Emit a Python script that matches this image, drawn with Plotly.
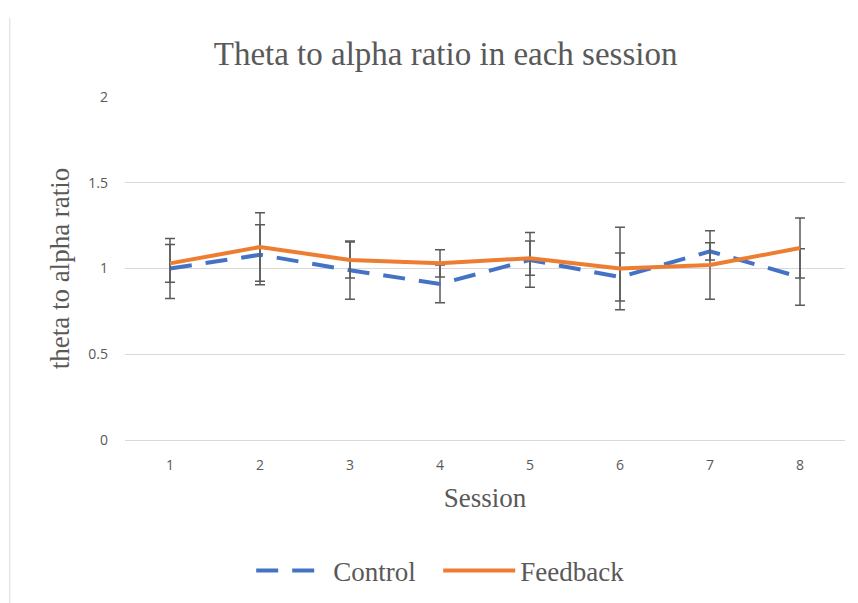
import plotly.graph_objects as go

sessions = [1, 2, 3, 4, 5, 6, 7, 8]
control = [1.00, 1.08, 0.99, 0.91, 1.05, 0.95, 1.10, 0.95]
control_err = [0.175, 0.175, 0.17, 0.11, 0.16, 0.14, 0.05, 0.165]
feedback = [1.03, 1.125, 1.05, 1.03, 1.06, 1.00, 1.02, 1.12]
feedback_err = [0.11, 0.20, 0.105, 0.08, 0.10, 0.24, 0.20, 0.175]

serif = "Liberation Serif"
grey_txt = "#595959"

fig = go.Figure()
fig.add_trace(go.Scatter(
    x=sessions, y=control, name="Control", mode="lines",
    line=dict(color="#4472C4", width=4, dash="22px,14px"),
    error_y=dict(type="data", array=control_err, visible=True,
                 color="#595959", thickness=1.5, width=5),
))
fig.add_trace(go.Scatter(
    x=sessions, y=feedback, name="Feedback", mode="lines",
    line=dict(color="#ED7D31", width=4),
    error_y=dict(type="data", array=feedback_err, visible=True,
                 color="#595959", thickness=1.5, width=5),
))

# page body adds an 8px offset, so margins are trimmed to compensate
fig.update_layout(
    width=858, height=603,
    paper_bgcolor="white", plot_bgcolor="white",
    margin=dict(l=117, r=21, t=89, b=171),
    title=dict(text="Theta to alpha ratio in each session", x=0.51, xanchor="center",
               y=0.925, yanchor="middle",
               font=dict(family=serif, size=33, color=grey_txt)),
    xaxis=dict(
        tickmode="array", tickvals=sessions, ticktext=[str(s) for s in sessions],
        range=[0.5, 8.5], showgrid=False, zeroline=False,
        showline=True, linecolor="#d9d9d9", linewidth=1,
        ticks="", ticklabelstandoff=12,
        tickfont=dict(family="Open Sans", size=14, color=grey_txt),
        title=dict(text="Session", standoff=15,
                   font=dict(family=serif, size=27, color=grey_txt)),
    ),
    yaxis=dict(
        range=[0, 2], dtick=0.5, showgrid=True, gridcolor="#d9d9d9", gridwidth=1,
        zeroline=False, ticks="", ticklabelstandoff=16,
        tickfont=dict(family="Open Sans", size=14, color=grey_txt),
        title=dict(text="theta to alpha ratio", standoff=10,
                   font=dict(family=serif, size=27, color=grey_txt)),
    ),
    legend=dict(orientation="h", x=0.435, xanchor="center", y=-0.382, yanchor="middle",
                font=dict(family=serif, size=27, color=grey_txt),
                itemwidth=72, entrywidth=100, entrywidthmode="pixels",
                traceorder="normal"),
    shapes=[dict(type="line", xref="paper", yref="paper",
                 x0=-0.16, x1=-0.16, y0=-0.5, y1=1.23,
                 line=dict(color="#d9d9d9", width=1))],
)

fig.write_html("out.html")
